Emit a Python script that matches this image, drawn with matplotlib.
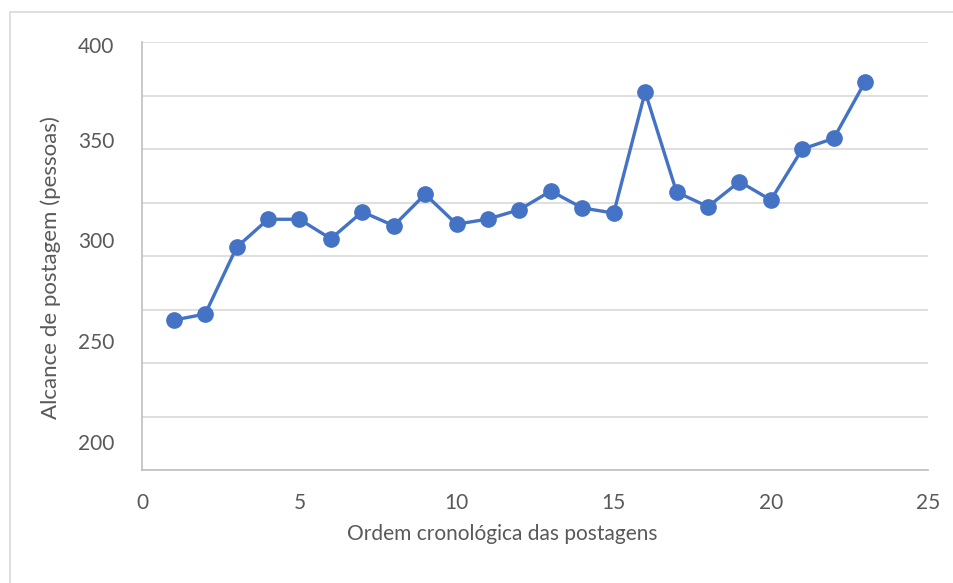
import matplotlib
matplotlib.use("Agg")
import matplotlib.pyplot as plt
from matplotlib.patches import Rectangle
from matplotlib.ticker import FixedLocator, MultipleLocator

# Data
posts = list(range(1, 24))
reach = [270.2, 273.0, 304.2, 317.3, 317.3, 308.2, 320.8, 314.3, 329.0, 315.0,
         317.4, 321.8, 330.5, 322.6, 320.2, 376.8, 330.0, 323.2, 334.9, 326.3,
         350.1, 355.1, 381.6]
x_ticks = [0, 5, 10, 15, 20, 25]
y_tick_labels = ["200", "250", "300", "350", "400"]
y_tick_positions = [213.2, 260.2, 307.6, 354.3, 398.7]

plt.rcParams['font.family'] = ['Lato', 'DejaVu Sans']
W, H = 954, 583
fig = plt.figure(figsize=(W / 100, H / 100), dpi=100)
ax = fig.add_axes([142.3 / W, 1 - 470.3 / H, (928 - 142.3) / W, (470.3 - 42.3) / H])

ax.plot(posts, reach, color='#4472C4', lw=2.4, marker='o', ms=11,
        markerfacecolor='#4472C4', markeredgecolor='#4472C4', zorder=3)

ax.set_xlim(0, 25)
ax.set_ylim(200, 400)
ax.set_xticks(x_ticks)
ax.set_xticklabels([str(t) for t in x_ticks])
ax.yaxis.set_major_locator(FixedLocator(y_tick_positions))
ax.set_yticklabels(y_tick_labels)
ax.yaxis.set_minor_locator(MultipleLocator(25))
ax.grid(False)
ax.grid(True, which='minor', axis='y', color='#D9D9D9', lw=1.2)
ax.tick_params(axis='both', which='both', length=0, labelsize=15, colors='#595959')
ax.tick_params(axis='y', pad=20)
ax.tick_params(axis='x', pad=16)

for s in ['top', 'right']:
    ax.spines[s].set_visible(False)
for s in ['left', 'bottom']:
    ax.spines[s].set_color('#BFBFBF')
    ax.spines[s].set_linewidth(1.2)

ax.set_xlabel('Ordem cronológica das postagens', fontsize=15, color='#595959')
ax.xaxis.set_label_coords(0.458, -0.15)
ax.set_ylabel('Alcance de postagem (pessoas)', fontsize=16, color='#595959')
ax.yaxis.set_label_coords(-0.116, 0.4727)
ax.yaxis.label.set_verticalalignment('center')
ax.xaxis.label.set_verticalalignment('center')

fig.patches.append(Rectangle((10 / W, -0.05), 1.1, 1 - 12 / H + 0.05, transform=fig.transFigure,
                             fill=False, edgecolor='#D9D9D9', lw=1.2, zorder=0))

fig.savefig('out.png', dpi=100)
